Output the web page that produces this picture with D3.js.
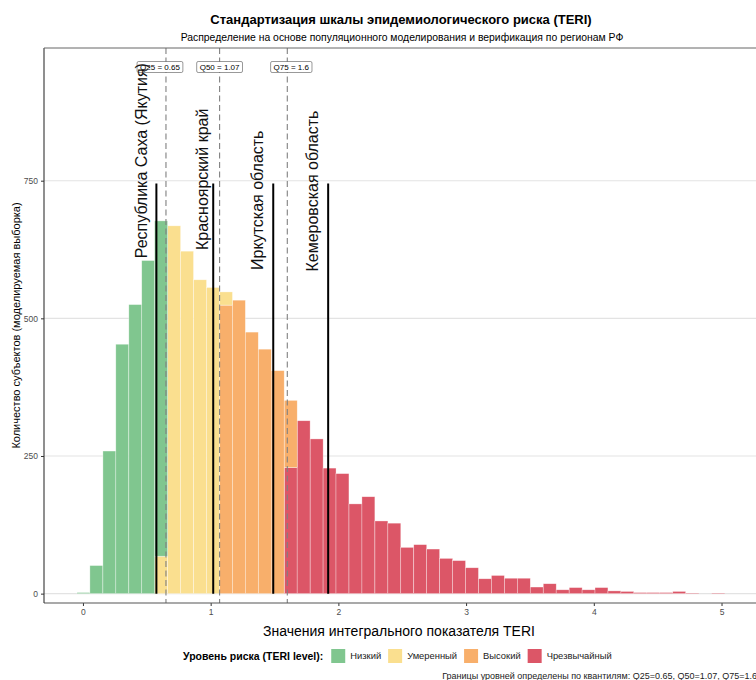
<!DOCTYPE html>
<html><head><meta charset="utf-8">
<script src="https://cdn.jsdelivr.net/npm/d3@7"></script>
<style>body{margin:0;background:#fff} svg{display:block;font-family:"Liberation Sans",Arial,Helvetica,sans-serif}</style>
</head><body><svg id="c" width="756" height="680"></svg>
<script>
// ---------------- data ----------------
const binCenters = [0.004,0.105,0.207,0.308,0.410,0.511,0.612,0.714,0.815,0.917,
  1.018,1.120,1.221,1.322,1.424,1.525,1.627,1.728,1.830,1.931,
  2.032,2.134,2.235,2.337,2.438,2.539,2.641,2.742,2.844,2.945,
  3.046,3.148,3.249,3.351,3.452,3.553,3.655,3.756,3.858,3.959,
  4.060,4.162,4.263,4.365,4.466,4.567,4.669,4.770,4.872,4.973];
const binWidth = 0.1014;
const levels = ["Низкий","Умеренный","Высокий","Чрезвычайный"];
const lowCounts      = [2,51,259,453,525,605,609,0,0,0, 0,0,0,0,0,0,0,0,0,0, 0,0,0,0,0,0,0,0,0,0, 0,0,0,0,0,0,0,0,0,0, 0,0,0,0,0,0,0,0,0,0];
const moderateCounts = [0,0,0,0,0,0,68,668,622,570, 556,24,0,0,0,0,0,0,0,0, 0,0,0,0,0,0,0,0,0,0, 0,0,0,0,0,0,0,0,0,0, 0,0,0,0,0,0,0,0,0,0];
const highCounts     = [0,0,0,0,0,0,0,0,0,0, 0,524,533,475,444,405,122,0,0,0, 0,0,0,0,0,0,0,0,0,0, 0,0,0,0,0,0,0,0,0,0, 0,0,0,0,0,0,0,0,0,0];
const extremeCounts  = [0,0,0,0,0,0,0,0,0,0, 0,0,0,0,0,0,229,314,281,228, 218,163,176,132,128,84,89,81,64,60, 47,27,33,28,28,12,18,7,11,7, 11,5,4,2,2,2,4,1,0,1];
const quantileNames  = ["Q25","Q50","Q75"];
const quantileValues = [0.65,1.07,1.6];
const regionNames  = ["Республика Саха (Якутия)","Красноярский край","Иркутская область","Кемеровская область"];
const regionValues = [0.575,1.02,1.49,1.92];
const regionLineTop = 745;
const regionLabelAt = [609,624,588,585];
const xTicks = [0,1,2,3,4,5];
const yTicks = [0,250,500,750];
const titleText = "Стандартизация шкалы эпидемиологического риска (TERI)";
const subtitleText = "Распределение на основе популяционного моделирования и верификация по регионам РФ";
const xTitle = "Значения интегрального показателя TERI";
const yTitle = "Количество субъектов (моделируемая выборка)";
const legendTitle = "Уровень риска (TERI level):";
const captionText = "Границы уровней определены по квантилям: Q25=0.65, Q50=1.07, Q75=1.6";

// ---------------- styles ----------------
const colors = {"Низкий":"#80C68F","Умеренный":"#FADF8F","Высокий":"#F8AF6B","Чрезвычайный":"#DC5667"};
const panel = {left:44, right:756, top:48, bottom:603};
const labelNudge = [-6, 0, 4];
const regionDx = [-9.5, -5, -10, -10];

const svg = d3.select("#c");
const x = d3.scaleLinear().domain([-0.305, 5.27]).range([panel.left, panel.right]);
const y = d3.scaleLinear().domain([-17, 991]).range([panel.bottom, panel.top]);

// grid
svg.append("g").selectAll("line").data(yTicks).join("line")
  .attr("x1", panel.left).attr("x2", panel.right)
  .attr("y1", d => y(d)).attr("y2", d => y(d))
  .attr("stroke", "#e3e3e3").attr("stroke-width", 1.1);

// stacked histogram
const table = binCenters.map((c, i) => ({center: c,
  "Низкий": lowCounts[i], "Умеренный": moderateCounts[i],
  "Высокий": highCounts[i], "Чрезвычайный": extremeCounts[i]}));
const stackKeys = levels.slice().reverse();
const series = d3.stack().keys(stackKeys)(table);
svg.append("g").selectAll("g").data(series).join("g")
  .attr("fill", s => colors[s.key])
  .selectAll("rect").data(s => s.filter(d => d[1] - d[0] > 0)).join("rect")
  .attr("x", d => x(d.data.center - binWidth / 2))
  .attr("width", d => x(d.data.center + binWidth / 2) - x(d.data.center - binWidth / 2))
  .attr("y", d => y(d[1]))
  .attr("height", d => y(d[0]) - y(d[1]))
  .attr("stroke", "rgba(255,255,255,0.55)").attr("stroke-width", 0.6);

// quantile dashed lines
svg.append("g").selectAll("line").data(quantileValues).join("line")
  .attr("x1", d => x(d)).attr("x2", d => x(d))
  .attr("y1", panel.top).attr("y2", panel.bottom)
  .attr("stroke", "#808080").attr("stroke-width", 1.1).attr("stroke-dasharray", "6,3.5");

// region lines
svg.append("g").selectAll("line").data(regionValues).join("line")
  .attr("x1", d => x(d)).attr("x2", d => x(d))
  .attr("y1", y(0)).attr("y2", y(regionLineTop))
  .attr("stroke", "#000").attr("stroke-width", 2);

// quantile label boxes
const qg = svg.append("g").selectAll("g").data(quantileValues).join("g")
  .attr("transform", (d, i) => `translate(${x(d) + labelNudge[i]},67)`);
qg.append("rect");
qg.append("text").attr("text-anchor", "middle").attr("dy", "0.35em")
  .attr("font-size", 8).attr("fill", "#000")
  .text((d, i) => `${quantileNames[i]} = ${d}`);
qg.each(function() {
  const g = d3.select(this);
  const w = g.select("text").node().getComputedTextLength();
  g.select("rect").attr("x", -w / 2 - 3).attr("y", -5.5).attr("width", w + 6).attr("height", 11)
    .attr("rx", 1.5).attr("fill", "#fff").attr("stroke", "#333").attr("stroke-width", 0.5);
});

// region labels
svg.append("g").selectAll("text").data(regionNames).join("text")
  .attr("transform", (d, i) => `translate(${x(regionValues[i]) + regionDx[i]},${y(regionLabelAt[i])}) rotate(-90)`)
  .attr("font-size", 16).attr("fill", "#111").text(d => d);

// axes
const xAxis = svg.append("g").attr("transform", `translate(0,${panel.bottom})`)
  .call(d3.axisBottom(x).tickValues(xTicks).tickFormat(d3.format("d")).tickSize(3).tickPadding(3));
const yAxis = svg.append("g").attr("transform", `translate(${panel.left},0)`)
  .call(d3.axisLeft(y).tickValues(yTicks).tickSize(3).tickPadding(3));
[xAxis, yAxis].forEach(a => {
  a.select(".domain").remove();
  a.selectAll(".tick line").attr("stroke", "#333").attr("stroke-width", 1);
  a.selectAll(".tick text").attr("fill", "#4d4d4d").attr("font-size", 8.5)
    .attr("font-family", '"Liberation Sans",Arial,sans-serif');
});
svg.append("line").attr("x1", panel.left).attr("x2", panel.right).attr("y1", panel.bottom).attr("y2", panel.bottom)
  .attr("stroke", "#555").attr("stroke-width", 1.1);
svg.append("line").attr("x1", panel.left).attr("x2", panel.left).attr("y1", panel.top).attr("y2", panel.bottom)
  .attr("stroke", "#333").attr("stroke-width", 1.1);
svg.append("line").attr("x1", panel.left).attr("x2", panel.right).attr("y1", panel.top).attr("y2", panel.top)
  .attr("stroke", "#666").attr("stroke-width", 1);

// titles
const cx = (panel.left + panel.right) / 2;
svg.append("text").attr("x", cx + 1).attr("y", 24).attr("text-anchor", "middle")
  .attr("font-size", 13).attr("font-weight", "bold").text(titleText);
svg.append("text").attr("x", cx + 2).attr("y", 41).attr("text-anchor", "middle")
  .attr("font-size", 10.4).text(subtitleText);
svg.append("text").attr("x", cx - 1).attr("y", 636).attr("text-anchor", "middle")
  .attr("font-size", 14).text(xTitle);
svg.append("text").attr("transform", `translate(20,${(panel.top + panel.bottom) / 2}) rotate(-90)`)
  .attr("text-anchor", "middle").attr("font-size", 11).text(yTitle);

// legend
const leg = svg.append("g").attr("transform", "translate(183,656)");
const lt = leg.append("text").attr("x", 0).attr("dy", "0.35em").attr("font-size", 10.5)
  .attr("font-weight", "bold").text(legendTitle);
let lx = lt.node().getComputedTextLength() + 8;
levels.forEach(lv => {
  leg.append("rect").attr("x", lx).attr("y", -7).attr("width", 14).attr("height", 14).attr("fill", colors[lv]);
  const t = leg.append("text").attr("x", lx + 19).attr("dy", "0.35em").attr("font-size", 9.4).attr("fill", "#222").text(lv);
  lx += 19 + t.node().getComputedTextLength() + 7;
});

// caption
svg.append("text").attr("x", 757).attr("y", 679).attr("text-anchor", "end")
  .attr("font-size", 9).attr("fill", "#222").text(captionText);
</script></body></html>
